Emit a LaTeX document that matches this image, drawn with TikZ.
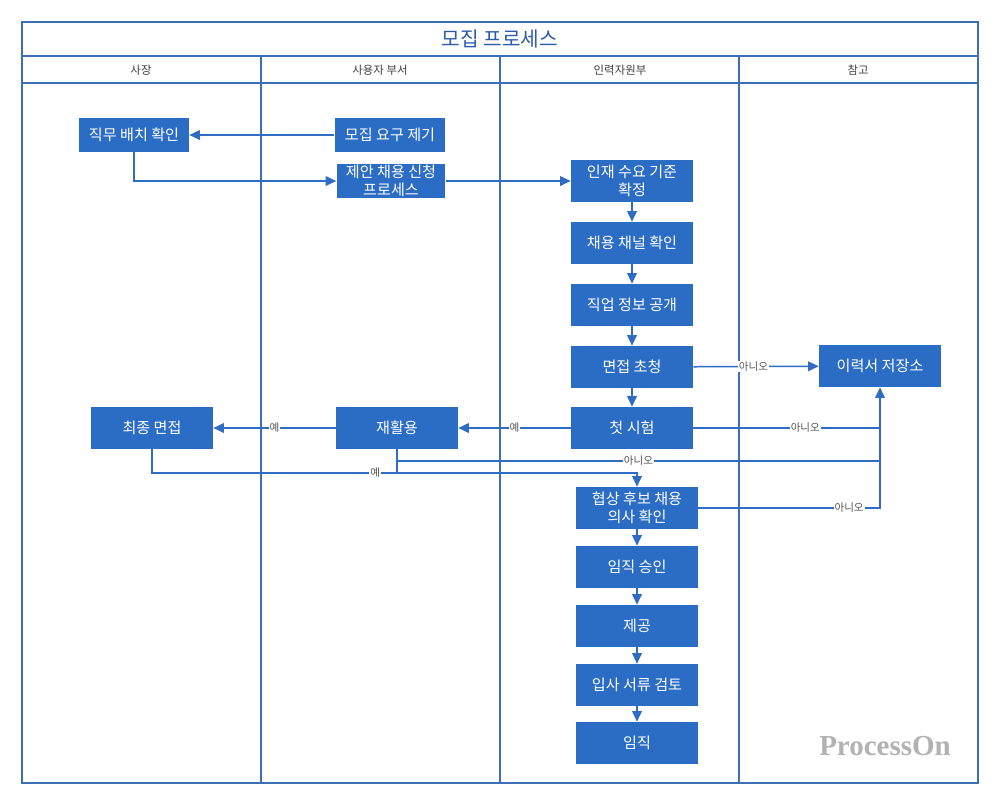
\documentclass[tikz,border=0pt]{standalone}
\usepackage{fontspec}
\newfontfamily\kr{Noto Sans CJK KR}
\newfontfamily\wm{Liberation Serif}
\usetikzlibrary{arrows.meta}
\definecolor{boxblue}{HTML}{2B6CC4}
\definecolor{lineblue}{HTML}{2F6DC4}
\definecolor{laneblue}{HTML}{3C6FB3}
\definecolor{titleblue}{HTML}{2A5CAA}
\definecolor{lbl}{HTML}{555555}
\begin{document}
\begin{tikzpicture}[x=0.02cm,y=-0.02cm,
  proc/.style={fill=boxblue, text=white, font=\kr\fontsize{8.6}{10}\selectfont, align=center, inner sep=0pt, minimum width=2.44cm, minimum height=0.84cm},
  conn/.style={draw=lineblue, line width=0.85pt, -{Triangle[length=6pt,width=5.5pt]}},
  plain/.style={draw=lineblue, line width=0.85pt},
  lab/.style={fill=white, text=lbl, font=\kr\fontsize{6}{7}\selectfont, inner sep=0.5pt},
  lanel/.style={draw=laneblue, line width=1pt},
  hdr/.style={text=black!75, font=\kr\fontsize{6.5}{7.5}\selectfont}
]
\useasboundingbox[fill=white] (0,0) rectangle (1000,806);
% frame
\draw[lanel] (22,22) rectangle (978,783);
\draw[lanel] (22,56) -- (978,56);
\draw[lanel] (22,83) -- (978,83);
\draw[lanel] (261,56) -- (261,783);
\draw[lanel] (500,56) -- (500,783);
\draw[lanel] (739,56) -- (739,783);
\node[text=titleblue, font=\kr\fontsize{11.5}{13}\selectfont] (title) at (500,39) {모집 프로세스};
\node[hdr] (h1) at (141,70) {사장};
\node[hdr] (h2) at (380,70) {사용자 부서};
\node[hdr] (h3) at (620,70) {인력자원부};
\node[hdr] (h4) at (858,70) {참고};

% nodes
\node[proc, minimum width=2.2cm, minimum height=0.68cm] (jmbc) at (134,135) {직무 배치 확인};
\node[proc, minimum width=2.22cm, minimum height=0.68cm] (mjyg) at (390,135) {모집 요구 제기};
\node[proc, minimum width=2.18cm, minimum height=0.68cm] (jach) at (391,181) {제안 채용 신청\\프로세스};
\node[proc] (isgj) at (632,181) {인재 수요 기준\\확정};
\node[proc] (chch) at (632,243) {채용 채널 확인};
\node[proc] (jjgg) at (632,305) {직업 정보 공개};
\node[proc] (mjch) at (632,367) {면접 초청};
\node[proc] (cssh) at (632,428) {첫 시험};
\node[proc] (ilsj) at (880,366) {이력서 저장소};
\node[proc] (cjmj) at (152,428) {최종 면접};
\node[proc] (jhy) at (397,428) {재활용};
\node[proc] (hshb) at (637,508) {협상 후보 채용\\의사 확인};
\node[proc] (ijsi) at (637,567) {임직 승인};
\node[proc] (jg) at (637,626) {제공};
\node[proc] (isgt) at (637,685) {입사 서류 검토};
\node[proc] (ij) at (637,743) {임직};

\coordinate (ja) at (880,428);
\coordinate (jb) at (880,461);
\coordinate (jc) at (880,508);
\coordinate (jd) at (637,473);
\coordinate (je) at (397,473);

% connectors
\draw[conn] (mjyg) -- (jmbc);
\draw[conn] (jmbc.south) |- (jach.west);
\draw[conn] (jach) -- (isgj);
\draw[conn] (isgj) -- (chch);
\draw[conn] (chch) -- (jjgg);
\draw[conn] (jjgg) -- (mjch);
\draw[conn] (mjch) -- (cssh);
\draw[conn] (mjch) -- node[lab, pos=0.48] {아니오} (ilsj);
\draw[conn] (cssh.east) -- node[lab, pos=0.6] {아니오} (ja) -- (ilsj.south);
\draw[plain] (jhy.south) |- node[lab, pos=0.75] {아니오} (jb) -- (ja);
\draw[plain] (hshb.east) -- node[lab, pos=0.83] {아니오} (jc) -- (jb);
\draw[conn] (cssh) -- node[lab, pos=0.5] {예} (jhy);
\draw[conn] (jhy) -- node[lab, pos=0.5] {예} (cjmj);
\draw[plain] (jhy.south) -- (je);
\draw[conn] (cjmj.south) |- node[lab, pos=0.73] {예} (jd) -- (hshb.north);
\draw[conn] (hshb) -- (ijsi);
\draw[conn] (ijsi) -- (jg);
\draw[conn] (jg) -- (isgt);
\draw[conn] (isgt) -- (ij);

\node[text=black!30, font=\wm\bfseries\fontsize{16.5}{18}\selectfont] (wmk) at (885,746) {ProcessOn};
\end{tikzpicture}
\end{document}
